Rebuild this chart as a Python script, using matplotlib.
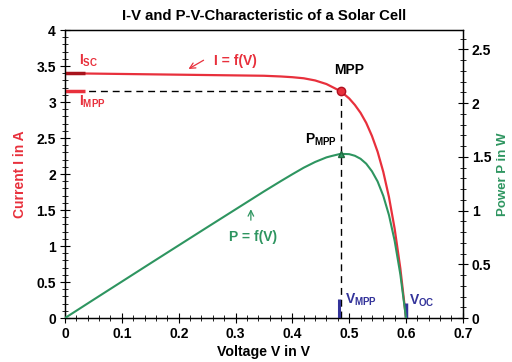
import matplotlib
matplotlib.use("Agg")
import matplotlib.pyplot as plt
from matplotlib.ticker import MultipleLocator

plt.rcParams['font.family'] = ['Liberation Sans', 'DejaVu Sans']
plt.rcParams['font.weight'] = 'bold'

# I-V characteristic of the cell (voltage in V, current in A)
voltage = [0.00, 0.05, 0.10, 0.15, 0.20, 0.25, 0.30, 0.35, 0.38, 0.40, 0.42,
           0.44, 0.46, 0.47, 0.485, 0.50, 0.51, 0.52, 0.53, 0.54, 0.55, 0.56,
           0.57, 0.58, 0.59, 0.60]
current = [3.40, 3.395, 3.39, 3.385, 3.38, 3.375, 3.37, 3.365, 3.355, 3.345,
           3.33, 3.30, 3.25, 3.21, 3.15, 3.05, 2.96, 2.85, 2.71, 2.53, 2.31,
           2.03, 1.68, 1.24, 0.69, 0.00]
# P-V characteristic (power in W) at the same voltages
power = [0.00, 0.170, 0.339, 0.508, 0.676, 0.844, 1.011, 1.178, 1.275, 1.338,
         1.399, 1.452, 1.495, 1.509, 1.528, 1.525, 1.510, 1.482, 1.436, 1.366,
         1.271, 1.137, 0.958, 0.719, 0.407, 0.00]

isc = 3.40
i_mpp = 3.15
v_mpp = 0.485
p_mpp = 1.528
v_oc = 0.60

red = '#e8303c'
dark_red = '#a8141c'
green = '#2e9560'
blue = '#33339a'

fig = plt.figure(figsize=(5.12, 3.62), dpi=100)
ax = fig.add_axes([0.127, 0.1215, 0.777, 0.7955])
ax2 = ax.twinx()

ax.set_xlim(0, 0.7)
ax.set_ylim(0, 4)
ax2.set_ylim(0, 2.68)

# reference lines to the maximum power point
ax.plot([0, v_mpp], [i_mpp, i_mpp], color='black', lw=1.0, ls=(0, (5, 3.5)), zorder=2)
ax.plot([v_mpp, v_mpp], [0, i_mpp], color='black', lw=1.0, ls=(0, (5, 3.5)), zorder=2)

ax.plot(voltage, current, color=red, lw=1.6, zorder=3)
ax2.plot(voltage, power, color=green, lw=1.5, zorder=3)

# markers on the axes
ax.plot([0, 0.035], [isc, isc], color=dark_red, lw=2.5, solid_capstyle='butt', zorder=4)
ax.plot([0, 0.035], [i_mpp, i_mpp], color=red, lw=2.5, solid_capstyle='butt', zorder=4)
ax.plot([v_mpp - 0.003, v_mpp - 0.003], [0, 0.27], color=blue, lw=2.2, solid_capstyle='butt', zorder=4)
ax.plot([v_oc, v_oc], [0, 0.21], color=blue, lw=2.5, solid_capstyle='butt', zorder=4)

ax.plot([v_mpp], [i_mpp], 'o', color=red, mec='#b01020', ms=6, zorder=5)
ax2.plot([v_mpp], [p_mpp], '^', color=green, mec='#1f6a40', ms=5, zorder=5)

fs = 10
# annotations
ax.text(0.025, 3.57, r'I$_\mathregular{SC}$', color=red, fontsize=fs, ha='left', va='center')
ax.text(0.025, 3.01, r'I$_\mathregular{MPP}$', color=red, fontsize=fs, ha='left', va='center')
ax.text(0.263, 3.57, 'I = f(V)', color=red, fontsize=fs, ha='left', va='center')
ax.annotate('', xy=(0.213, 3.44), xytext=(0.248, 3.60),
            arrowprops=dict(arrowstyle='->', color=red, lw=0.9))
ax.text(0.50, 3.44, 'MPP', color='black', fontsize=fs, ha='center', va='center')
ax.text(0.478, 2.48, r'P$_\mathregular{MPP}$', color='black', fontsize=fs, ha='right', va='center')
ax.text(0.33, 1.13, 'P = f(V)', color=green, fontsize=fs, ha='center', va='center')
ax.annotate('', xy=(0.327, 1.55), xytext=(0.327, 1.32),
            arrowprops=dict(arrowstyle='->', color=green, lw=0.9))
ax.text(0.492, 0.25, r'V$_\mathregular{MPP}$', color=blue, fontsize=fs, ha='left', va='center')
ax.text(0.605, 0.24, r'V$_\mathregular{OC}$', color=blue, fontsize=fs, ha='left', va='center')

# ticks
ax.xaxis.set_minor_locator(MultipleLocator(0.02))
ax.yaxis.set_minor_locator(MultipleLocator(0.1))
ax2.yaxis.set_minor_locator(MultipleLocator(0.1))
ax.set_xticks([0, 0.1, 0.2, 0.3, 0.4, 0.5, 0.6, 0.7])
ax.set_xticklabels(['0', '0.1', '0.2', '0.3', '0.4', '0.5', '0.6', '0.7'])
ax.set_yticks([0, 0.5, 1, 1.5, 2, 2.5, 3, 3.5, 4])
ax.set_yticklabels(['0', '0.5', '1', '1.5', '2', '2.5', '3', '3.5', '4'])
ax2.set_yticks([0, 0.5, 1, 1.5, 2, 2.5])
ax2.set_yticklabels(['0', '0.5', '1', '1.5', '2', '2.5'])

for a in (ax, ax2):
    a.tick_params(which='major', direction='inout', length=7, width=0.8, labelsize=10, pad=3)
    a.tick_params(which='minor', direction='inout', length=5, width=0.6)
    for s in a.spines.values():
        s.set_linewidth(0.9)
ax.tick_params(axis='y', which='both', right=False)
ax.tick_params(axis='x', which='both', top=False)

ax.set_title('I-V and P-V-Characteristic of a Solar Cell', fontsize=10.7, fontweight='bold', pad=7)
ax.set_xlabel('Voltage V in V', fontsize=10.2, fontweight='bold', labelpad=3)
ax.set_ylabel('Current I in A', fontsize=10, fontweight='bold', color=red, labelpad=7)
ax2.set_ylabel('Power P in W', fontsize=9.5, fontweight='bold', color=green, labelpad=4)

fig.savefig('out.png', dpi=100)
